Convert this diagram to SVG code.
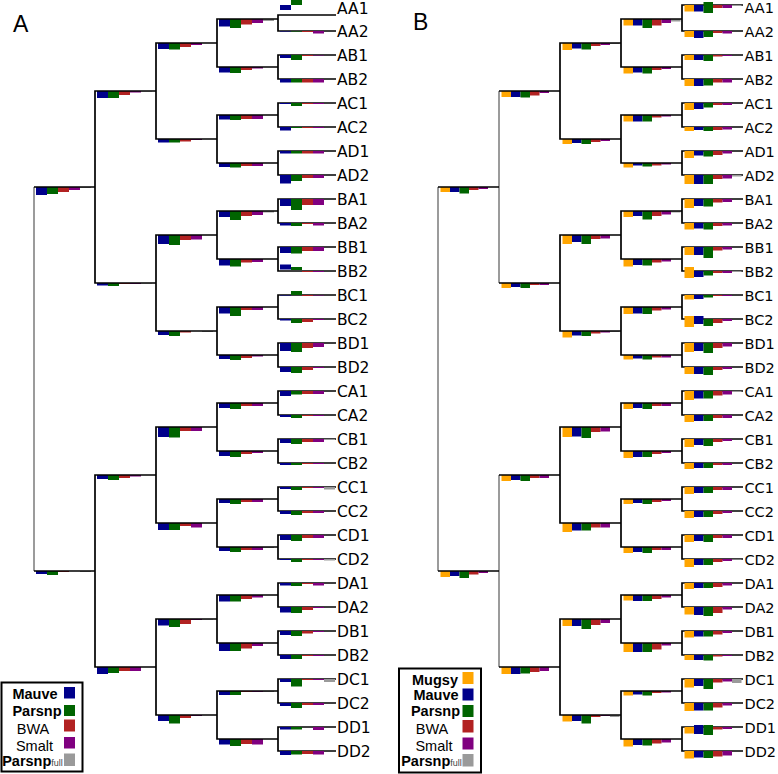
<svg xmlns="http://www.w3.org/2000/svg" width="778" height="774" viewBox="0 0 778 774">
<style>
.ln{fill:none;stroke:#000;stroke-width:1.7}
.lg{fill:none;stroke:#8a8a8a;stroke-width:1.7}
.m{fill:#00008b}.p{fill:#006400}.w{fill:#b22222}.s{fill:#800080}.f{fill:#9a9a9a}.g{fill:#ffa500}
.t{font-family:"DejaVu Sans",sans-serif;font-size:15.5px;fill:#000}
.u{font-family:"DejaVu Sans",sans-serif;font-size:14.5px;fill:#000}
.h{font-family:"Liberation Sans",Arial,sans-serif;font-size:23px;fill:#000}
.lb{font-family:"Liberation Sans",Arial,sans-serif;font-size:14.5px;fill:#000;text-anchor:middle}
.b{font-weight:bold}
.box{fill:#fff;stroke:#000;stroke-width:2}
</style>
<rect width="778" height="774" fill="#fff"/>
<text class="h" x="13" y="31.5">A</text>
<text class="h" x="413" y="30">B</text>

<!-- ===== Panel A bars ===== -->
<g id="A-bars">
<g id="A-n-AB-CD" transform="translate(36,187)"><rect class="m" width="11" height="8"/><rect class="p" x="11" width="11" height="7"/><rect class="w" x="22" width="11" height="5"/><rect class="s" x="33" width="11" height="3"/><rect class="f" x="44" width="11" height="1"/></g>
<g id="A-n-C-D" transform="translate(36,571)"><rect class="m" width="11" height="3"/><rect class="p" x="11" width="11" height="4"/><rect class="w" x="22" width="11" height="1"/><rect class="f" x="44" width="11" height="1"/></g>
<g id="A-n-A" transform="translate(97,91)"><rect class="m" width="11" height="7"/><rect class="p" x="11" width="11" height="7"/><rect class="w" x="22" width="11" height="4"/><rect class="s" x="33" width="11" height="1.5"/><rect class="f" x="44" width="11" height="0.5"/></g>
<g id="A-n-B" transform="translate(97,283)"><rect class="m" width="11" height="2.5"/><rect class="p" x="11" width="11" height="3"/><rect class="w" x="22" width="11" height="1"/><rect class="s" x="33" width="11" height="1"/><rect class="f" x="44" width="11" height="0.5"/></g>
<g id="A-n-C" transform="translate(97,475)"><rect class="m" width="11" height="4"/><rect class="p" x="11" width="11" height="5"/><rect class="w" x="22" width="11" height="3"/><rect class="s" x="33" width="11" height="1.5"/></g>
<g id="A-n-D" transform="translate(97,667)"><rect class="m" width="11" height="7"/><rect class="p" x="11" width="11" height="6"/><rect class="w" x="22" width="11" height="4"/><rect class="s" x="33" width="11" height="4"/></g>
<g id="A-n-AAAB" transform="translate(158,43)"><rect class="m" width="11" height="6"/><rect class="p" x="11" width="11" height="6.5"/><rect class="w" x="22" width="11" height="4"/><rect class="s" x="33" width="11" height="2"/></g>
<g id="A-n-ACAD" transform="translate(158,139)"><rect class="m" width="11" height="3.5"/><rect class="p" x="11" width="11" height="3.5"/><rect class="w" x="22" width="11" height="2.5"/><rect class="s" x="33" width="11" height="1"/></g>
<g id="A-n-BABB" transform="translate(158,235)"><rect class="m" width="11" height="9"/><rect class="p" x="11" width="11" height="10"/><rect class="w" x="22" width="11" height="5"/><rect class="s" x="33" width="11" height="4.5"/></g>
<g id="A-n-BCBD" transform="translate(158,331)"><rect class="m" width="11" height="4"/><rect class="p" x="11" width="11" height="5"/><rect class="w" x="22" width="11" height="1.5"/><rect class="f" x="44" width="11" height="1"/></g>
<g id="A-n-CACB" transform="translate(158,427)"><rect class="m" width="11" height="10"/><rect class="p" x="11" width="11" height="10.5"/><rect class="w" x="22" width="11" height="4"/><rect class="s" x="33" width="11" height="4"/></g>
<g id="A-n-CCCD" transform="translate(158,523)"><rect class="m" width="11" height="7"/><rect class="p" x="11" width="11" height="7"/><rect class="w" x="22" width="11" height="3"/><rect class="s" x="33" width="11" height="4.5"/></g>
<g id="A-n-DADB" transform="translate(158,619)"><rect class="m" width="11" height="6.5"/><rect class="p" x="11" width="11" height="8"/><rect class="w" x="22" width="11" height="5"/><rect class="s" x="33" width="11" height="1"/><rect class="f" x="44" width="11" height="0.5"/></g>
<g id="A-n-DCDD" transform="translate(158,715)"><rect class="m" width="11" height="6"/><rect class="p" x="11" width="11" height="8.5"/><rect class="w" x="22" width="11" height="3"/><rect class="s" x="33" width="11" height="1"/></g>
<g id="A-n-AA" transform="translate(219,19)"><rect class="m" width="11" height="7.5"/><rect class="p" x="11" width="11" height="9"/><rect class="w" x="22" width="11" height="5.5"/><rect class="s" x="33" width="11" height="4"/><rect class="f" x="44" width="11" height="2"/></g>
<g id="A-n-AB" transform="translate(219,67)"><rect class="m" width="11" height="5.5"/><rect class="p" x="11" width="11" height="6"/><rect class="w" x="22" width="11" height="3"/><rect class="s" x="33" width="11" height="1.5"/></g>
<g id="A-n-AC" transform="translate(219,115)"><rect class="m" width="11" height="4.5"/><rect class="p" x="11" width="11" height="5"/><rect class="w" x="22" width="11" height="4"/><rect class="s" x="33" width="11" height="4"/></g>
<g id="A-n-AD" transform="translate(219,163)"><rect class="m" width="11" height="4"/><rect class="p" x="11" width="11" height="4.5"/><rect class="w" x="22" width="11" height="3"/><rect class="s" x="33" width="11" height="3"/></g>
<g id="A-n-BA" transform="translate(219,211)"><rect class="m" width="11" height="6"/><rect class="p" x="11" width="11" height="9"/><rect class="w" x="22" width="11" height="5"/><rect class="s" x="33" width="11" height="4"/><rect class="f" x="44" width="11" height="1.5"/></g>
<g id="A-n-BB" transform="translate(219,259)"><rect class="m" width="11" height="6.5"/><rect class="p" x="11" width="11" height="7.5"/><rect class="w" x="22" width="11" height="3.5"/><rect class="s" x="33" width="11" height="3"/></g>
<g id="A-n-BC" transform="translate(219,307)"><rect class="m" width="11" height="6.5"/><rect class="p" x="11" width="11" height="9"/><rect class="w" x="22" width="11" height="3"/><rect class="s" x="33" width="11" height="3"/></g>
<g id="A-n-BD" transform="translate(219,355)"><rect class="m" width="11" height="4"/><rect class="p" x="11" width="11" height="5"/><rect class="w" x="22" width="11" height="3"/><rect class="s" x="33" width="11" height="1.5"/></g>
<g id="A-n-CA" transform="translate(219,403)"><rect class="m" width="11" height="5"/><rect class="p" x="11" width="11" height="6"/><rect class="w" x="22" width="11" height="3"/><rect class="s" x="33" width="11" height="3"/></g>
<g id="A-n-CB" transform="translate(219,451)"><rect class="m" width="11" height="5"/><rect class="p" x="11" width="11" height="6"/><rect class="w" x="22" width="11" height="3"/><rect class="s" x="33" width="11" height="2"/></g>
<g id="A-n-CC" transform="translate(219,499)"><rect class="m" width="11" height="4"/><rect class="p" x="11" width="11" height="5"/><rect class="w" x="22" width="11" height="3"/><rect class="s" x="33" width="11" height="3"/></g>
<g id="A-n-CD" transform="translate(219,547)"><rect class="m" width="11" height="4"/><rect class="p" x="11" width="11" height="5"/><rect class="w" x="22" width="11" height="3"/><rect class="s" x="33" width="11" height="3"/><rect class="f" x="44" width="11" height="1"/></g>
<g id="A-n-DA" transform="translate(219,595)"><rect class="m" width="11" height="6.5"/><rect class="p" x="11" width="11" height="6.5"/><rect class="w" x="22" width="11" height="4"/><rect class="s" x="33" width="11" height="2.5"/></g>
<g id="A-n-DB" transform="translate(219,643)"><rect class="m" width="11" height="8"/><rect class="p" x="11" width="11" height="8"/><rect class="w" x="22" width="11" height="5.5"/><rect class="s" x="33" width="11" height="3"/></g>
<g id="A-n-DC" transform="translate(219,691)"><rect class="m" width="11" height="4"/><rect class="p" x="11" width="11" height="4"/><rect class="w" x="22" width="11" height="1"/><rect class="s" x="33" width="11" height="1"/><rect class="f" x="44" width="11" height="1"/></g>
<g id="A-n-DD" transform="translate(219,739)"><rect class="m" width="11" height="5.5"/><rect class="p" x="11" width="11" height="7"/><rect class="w" x="22" width="11" height="5"/><rect class="s" x="33" width="11" height="5.5"/></g>
</g>

<!-- ===== Panel B bars ===== -->
<g id="B-bars">
<g id="B-n-AB-CD" transform="translate(440.5,187)"><rect class="g" width="9.5" height="5"/><rect class="m" x="9.5" width="9.5" height="5"/><rect class="p" x="19" width="9.5" height="6.5"/><rect class="w" x="28.5" width="9.5" height="3"/><rect class="s" x="38" width="9.5" height="2"/></g>
<g id="B-n-C-D" transform="translate(440.5,571)"><rect class="g" width="9.5" height="6"/><rect class="m" x="9.5" width="9.5" height="5"/><rect class="p" x="19" width="9.5" height="7"/><rect class="w" x="28.5" width="9.5" height="3.5"/><rect class="s" x="38" width="9.5" height="2"/></g>
<g id="B-n-A" transform="translate(501.5,91)"><rect class="g" width="9.5" height="6"/><rect class="m" x="9.5" width="9.5" height="6"/><rect class="p" x="19" width="9.5" height="6.5"/><rect class="w" x="28.5" width="9.5" height="4.5"/><rect class="s" x="38" width="9.5" height="2"/></g>
<g id="B-n-B" transform="translate(501.5,283)"><rect class="g" width="9.5" height="5"/><rect class="m" x="9.5" width="9.5" height="4"/><rect class="p" x="19" width="9.5" height="5"/><rect class="w" x="28.5" width="9.5" height="2"/><rect class="s" x="38" width="9.5" height="2"/></g>
<g id="B-n-C" transform="translate(501.5,475)"><rect class="g" width="9.5" height="6"/><rect class="m" x="9.5" width="9.5" height="5"/><rect class="p" x="19" width="9.5" height="6"/><rect class="w" x="28.5" width="9.5" height="3"/><rect class="s" x="38" width="9.5" height="3"/></g>
<g id="B-n-D" transform="translate(501.5,667)"><rect class="g" width="9.5" height="7"/><rect class="m" x="9.5" width="9.5" height="7"/><rect class="p" x="19" width="9.5" height="6.5"/><rect class="w" x="28.5" width="9.5" height="5"/><rect class="s" x="38" width="9.5" height="4"/></g>
<g id="B-n-AAAB" transform="translate(562.5,43)"><rect class="g" width="9.5" height="7"/><rect class="m" x="9.5" width="9.5" height="5.5"/><rect class="p" x="19" width="9.5" height="6.5"/><rect class="w" x="28.5" width="9.5" height="3"/><rect class="s" x="38" width="9.5" height="2"/><rect class="f" x="47.5" width="9.5" height="1"/></g>
<g id="B-n-ACAD" transform="translate(562.5,139)"><rect class="g" width="9.5" height="5"/><rect class="m" x="9.5" width="9.5" height="4"/><rect class="p" x="19" width="9.5" height="5"/><rect class="w" x="28.5" width="9.5" height="3"/><rect class="s" x="38" width="9.5" height="2"/></g>
<g id="B-n-BABB" transform="translate(562.5,235)"><rect class="g" width="9.5" height="9"/><rect class="m" x="9.5" width="9.5" height="7"/><rect class="p" x="19" width="9.5" height="9"/><rect class="w" x="28.5" width="9.5" height="4"/><rect class="s" x="38" width="9.5" height="3.5"/></g>
<g id="B-n-BCBD" transform="translate(562.5,331)"><rect class="g" width="9.5" height="6.5"/><rect class="m" x="9.5" width="9.5" height="4.5"/><rect class="p" x="19" width="9.5" height="5"/><rect class="w" x="28.5" width="9.5" height="2.5"/><rect class="s" x="38" width="9.5" height="1.5"/><rect class="f" x="47.5" width="9.5" height="1"/></g>
<g id="B-n-CACB" transform="translate(562.5,427)"><rect class="g" width="9.5" height="10"/><rect class="m" x="9.5" width="9.5" height="9.5"/><rect class="p" x="19" width="9.5" height="11"/><rect class="w" x="28.5" width="9.5" height="5"/><rect class="s" x="38" width="9.5" height="4.5"/></g>
<g id="B-n-CCCD" transform="translate(562.5,523)"><rect class="g" width="9.5" height="9"/><rect class="m" x="9.5" width="9.5" height="7.5"/><rect class="p" x="19" width="9.5" height="7.5"/><rect class="w" x="28.5" width="9.5" height="4.5"/><rect class="s" x="38" width="9.5" height="4.5"/></g>
<g id="B-n-DADB" transform="translate(562.5,619)"><rect class="g" width="9.5" height="7"/><rect class="m" x="9.5" width="9.5" height="7"/><rect class="p" x="19" width="9.5" height="10"/><rect class="w" x="28.5" width="9.5" height="6"/><rect class="s" x="38" width="9.5" height="4"/></g>
<g id="B-n-DCDD" transform="translate(562.5,715)"><rect class="g" width="9.5" height="6.5"/><rect class="m" x="9.5" width="9.5" height="6"/><rect class="p" x="19" width="9.5" height="8.5"/><rect class="w" x="28.5" width="9.5" height="2"/><rect class="s" x="38" width="9.5" height="1"/><rect class="f" x="47.5" width="9.5" height="2"/></g>
<g id="B-n-AA" transform="translate(623.5,19)"><rect class="g" width="9.5" height="6.5"/><rect class="m" x="9.5" width="9.5" height="6.5"/><rect class="p" x="19" width="9.5" height="9"/><rect class="w" x="28.5" width="9.5" height="6.5"/><rect class="s" x="38" width="9.5" height="4"/><rect class="f" x="47.5" width="9.5" height="2.5"/></g>
<g id="B-n-AB" transform="translate(623.5,67)"><rect class="g" width="9.5" height="6.5"/><rect class="m" x="9.5" width="9.5" height="5.5"/><rect class="p" x="19" width="9.5" height="6.5"/><rect class="w" x="28.5" width="9.5" height="3"/><rect class="s" x="38" width="9.5" height="2"/></g>
<g id="B-n-AC" transform="translate(623.5,115)"><rect class="g" width="9.5" height="6.5"/><rect class="m" x="9.5" width="9.5" height="6.5"/><rect class="p" x="19" width="9.5" height="6.5"/><rect class="w" x="28.5" width="9.5" height="2.5"/><rect class="s" x="38" width="9.5" height="1.5"/></g>
<g id="B-n-AD" transform="translate(623.5,163)"><rect class="g" width="9.5" height="4.5"/><rect class="m" x="9.5" width="9.5" height="2.5"/><rect class="p" x="19" width="9.5" height="3.5"/><rect class="w" x="28.5" width="9.5" height="2.5"/><rect class="s" x="38" width="9.5" height="1.5"/></g>
<g id="B-n-BA" transform="translate(623.5,211)"><rect class="g" width="9.5" height="6"/><rect class="m" x="9.5" width="9.5" height="5"/><rect class="p" x="19" width="9.5" height="8.5"/><rect class="w" x="28.5" width="9.5" height="5"/><rect class="s" x="38" width="9.5" height="3.5"/><rect class="f" x="47.5" width="9.5" height="1.5"/></g>
<g id="B-n-BB" transform="translate(623.5,259)"><rect class="g" width="9.5" height="7.5"/><rect class="m" x="9.5" width="9.5" height="6"/><rect class="p" x="19" width="9.5" height="6.5"/><rect class="w" x="28.5" width="9.5" height="3.5"/><rect class="s" x="38" width="9.5" height="2.5"/></g>
<g id="B-n-BC" transform="translate(623.5,307)"><rect class="g" width="9.5" height="7"/><rect class="m" x="9.5" width="9.5" height="6.5"/><rect class="p" x="19" width="9.5" height="7"/><rect class="w" x="28.5" width="9.5" height="3.5"/><rect class="s" x="38" width="9.5" height="2.5"/></g>
<g id="B-n-BD" transform="translate(623.5,355)"><rect class="g" width="9.5" height="4.5"/><rect class="m" x="9.5" width="9.5" height="3.5"/><rect class="p" x="19" width="9.5" height="4.5"/><rect class="w" x="28.5" width="9.5" height="2.5"/><rect class="s" x="38" width="9.5" height="2.5"/></g>
<g id="B-n-CA" transform="translate(623.5,403)"><rect class="g" width="9.5" height="6"/><rect class="m" x="9.5" width="9.5" height="5"/><rect class="p" x="19" width="9.5" height="6"/><rect class="w" x="28.5" width="9.5" height="3"/><rect class="s" x="38" width="9.5" height="3"/></g>
<g id="B-n-CB" transform="translate(623.5,451)"><rect class="g" width="9.5" height="7"/><rect class="m" x="9.5" width="9.5" height="6"/><rect class="p" x="19" width="9.5" height="6"/><rect class="w" x="28.5" width="9.5" height="3"/><rect class="s" x="38" width="9.5" height="2"/></g>
<g id="B-n-CC" transform="translate(623.5,499)"><rect class="g" width="9.5" height="5"/><rect class="m" x="9.5" width="9.5" height="4"/><rect class="p" x="19" width="9.5" height="5"/><rect class="w" x="28.5" width="9.5" height="3"/><rect class="s" x="38" width="9.5" height="2"/></g>
<g id="B-n-CD" transform="translate(623.5,547)"><rect class="g" width="9.5" height="6"/><rect class="m" x="9.5" width="9.5" height="5"/><rect class="p" x="19" width="9.5" height="6"/><rect class="w" x="28.5" width="9.5" height="3"/><rect class="s" x="38" width="9.5" height="3"/></g>
<g id="B-n-DA" transform="translate(623.5,595)"><rect class="g" width="9.5" height="5.5"/><rect class="m" x="9.5" width="9.5" height="6"/><rect class="p" x="19" width="9.5" height="6"/><rect class="w" x="28.5" width="9.5" height="4"/><rect class="s" x="38" width="9.5" height="2.5"/></g>
<g id="B-n-DB" transform="translate(623.5,643)"><rect class="g" width="9.5" height="9"/><rect class="m" x="9.5" width="9.5" height="9"/><rect class="p" x="19" width="9.5" height="9"/><rect class="w" x="28.5" width="9.5" height="6.5"/><rect class="s" x="38" width="9.5" height="2.5"/></g>
<g id="B-n-DC" transform="translate(623.5,691)"><rect class="g" width="9.5" height="4.5"/><rect class="m" x="9.5" width="9.5" height="3.5"/><rect class="p" x="19" width="9.5" height="4.5"/><rect class="w" x="28.5" width="9.5" height="2"/><rect class="s" x="38" width="9.5" height="1.5"/></g>
<g id="B-n-DD" transform="translate(623.5,739)"><rect class="g" width="9.5" height="7.5"/><rect class="m" x="9.5" width="9.5" height="6"/><rect class="p" x="19" width="9.5" height="6.5"/><rect class="w" x="28.5" width="9.5" height="4.5"/><rect class="s" x="38" width="9.5" height="3.5"/></g>
</g>

<!-- ===== Connectors ===== -->
<g id="connectors">
<path class="lg" d="M34 187V571 M438 187V571 M499 91V283 M499 475V667"/>
<path class="ln" d="M34 187H95 M34 571H95
M156 91H95V283H156 M156 475H95V667H156
M217 43H156V139H217 M217 235H156V331H217 M217 427H156V523H217 M217 619H156V715H217
M278 19H217V67H278 M278 115H217V163H278 M278 211H217V259H278 M278 307H217V355H278 M278 403H217V451H278 M278 499H217V547H278 M278 595H217V643H278 M278 691H217V739H278
M336 15H278V31H336 M336 55H278V79H336 M336 103H278V127H336 M336 151H278V175H336 M336 199H278V223H336 M336 247H278V271H336 M336 295H278V319H336 M336 343H278V367H336 M336 391H278V415H336 M336 439H278V463H336 M336 487H278V511H336 M336 535H278V559H336 M336 583H278V607H336 M336 631H278V655H336 M336 679H278V703H336 M336 727H278V751H336"/>
<path class="ln" d="M438 187H499 M438 571H499 M499 91H560 M499 283H560 M499 475H560 M499 667H560
M621 43H560V139H621 M621 235H560V331H621 M621 427H560V523H621 M621 619H560V715H621
M682 19H621V67H682 M682 115H621V163H682 M682 211H621V259H682 M682 307H621V355H682 M682 403H621V451H682 M682 499H621V547H682 M682 595H621V643H682 M682 691H621V739H682
M743 5H682V31H743 M743 55H682V79H743 M743 103H682V127H743 M743 151H682V175H743 M743 199H682V223H743 M743 247H682V271H743 M743 295H682V319H743 M743 343H682V367H743 M743 391H682V415H743 M743 439H682V463H743 M743 487H682V511H743 M743 535H682V559H743 M743 583H682V607H743 M743 631H682V655H743 M743 679H682V703H743 M743 727H682V751H743"/>
</g>

<!-- ===== Panel A leaves ===== -->
<g id="A-AA1"><rect class="m" x="280" y="5" width="11" height="5"/><rect class="p" x="291" y="0" width="11" height="5"/><text class="t" x="337" y="13.5">AA1</text></g>
<g id="A-AA2"><g transform="translate(280,31)"><rect class="m" width="11" height="0.5"/><rect class="p" x="11" width="11" height="0.5"/><rect class="w" x="22" width="11" height="1"/><rect class="s" x="33" width="11" height="2.5"/></g><text class="t" x="337" y="37">AA2</text></g>
<g id="A-AB1"><g transform="translate(280,55)"><rect class="m" width="11" height="3"/><rect class="p" x="11" width="11" height="5"/><rect class="w" x="22" width="11" height="1"/><rect class="s" x="33" width="11" height="0.5"/></g><text class="t" x="337" y="61">AB1</text></g>
<g id="A-AB2"><g transform="translate(280,79)"><rect class="m" width="11" height="3.5"/><rect class="p" x="11" width="11" height="3.5"/><rect class="w" x="22" width="11" height="3.5"/><rect class="s" x="33" width="11" height="3.5"/></g><text class="t" x="337" y="85">AB2</text></g>
<g id="A-AC1"><g transform="translate(280,103)"><rect class="m" width="11" height="1"/><rect class="p" x="11" width="11" height="3"/><rect class="w" x="22" width="11" height="1"/><rect class="s" x="33" width="11" height="1"/></g><text class="t" x="337" y="109">AC1</text></g>
<g id="A-AC2"><g transform="translate(280,127)"><rect class="m" width="11" height="3.5"/><rect class="p" x="11" width="11" height="1"/><rect class="w" x="22" width="11" height="1"/><rect class="s" x="33" width="11" height="1"/></g><text class="t" x="337" y="133">AC2</text></g>
<g id="A-AD1"><g transform="translate(280,151)"><rect class="m" width="11" height="2.5"/><rect class="p" x="11" width="11" height="2.5"/><rect class="w" x="22" width="11" height="2.5"/><rect class="s" x="33" width="11" height="2.5"/></g><text class="t" x="337" y="157">AD1</text></g>
<g id="A-AD2"><g transform="translate(280,175)"><rect class="m" width="11" height="8.5"/><rect class="p" x="11" width="11" height="6"/><rect class="w" x="22" width="11" height="3"/><rect class="s" x="33" width="11" height="3"/></g><text class="t" x="337" y="181">AD2</text></g>
<g id="A-BA1"><g transform="translate(280,199)"><rect class="m" width="11" height="7"/><rect class="p" x="11" width="11" height="11"/><rect class="w" x="22" width="11" height="6"/><rect class="s" x="33" width="11" height="6"/></g><text class="t" x="337" y="205">BA1</text></g>
<g id="A-BA2"><g transform="translate(280,223)"><rect class="m" width="11" height="2.5"/><rect class="p" x="11" width="11" height="3"/><rect class="w" x="22" width="11" height="1"/><rect class="s" x="33" width="11" height="2.5"/></g><text class="t" x="337" y="229">BA2</text></g>
<g id="A-BB1"><g transform="translate(280,247)"><rect class="m" width="11" height="6"/><rect class="p" x="11" width="11" height="6.5"/><rect class="w" x="22" width="11" height="4"/><rect class="s" x="33" width="11" height="4"/></g><text class="t" x="337" y="253">BB1</text></g>
<g id="A-BB2"><g transform="translate(280,271)"><rect class="m" y="-6.5" width="11" height="5"/><rect class="p" x="11" y="-4" width="11" height="3"/><rect class="w" x="22" width="11" height="1"/><rect class="s" x="33" width="11" height="1"/></g><text class="t" x="337" y="277">BB2</text></g>
<g id="A-BC1"><g transform="translate(280,295)"><rect class="m" width="11" height="0.5"/><rect class="p" x="11" y="-4" width="11" height="4"/><rect class="w" x="22" width="11" height="1"/><rect class="s" x="33" width="11" height="0.5"/></g><text class="t" x="337" y="301">BC1</text></g>
<g id="A-BC2"><g transform="translate(280,319)"><rect class="m" width="11" height="1.5"/><rect class="p" x="11" width="11" height="4"/><rect class="w" x="22" width="11" height="3"/><rect class="s" x="33" width="11" height="1"/></g><text class="t" x="337" y="325">BC2</text></g>
<g id="A-BD1"><g transform="translate(280,343)"><rect class="m" width="11" height="8"/><rect class="p" x="11" width="11" height="9"/><rect class="w" x="22" width="11" height="5"/><rect class="s" x="33" width="11" height="4"/></g><text class="t" x="337" y="349">BD1</text></g>
<g id="A-BD2"><g transform="translate(280,367)"><rect class="m" width="11" height="5"/><rect class="p" x="11" width="11" height="6"/><rect class="w" x="22" width="11" height="3"/><rect class="s" x="33" width="11" height="1"/></g><text class="t" x="337" y="373">BD2</text></g>
<g id="A-CA1"><g transform="translate(280,391)"><rect class="m" width="11" height="5"/><rect class="p" x="11" width="11" height="3.5"/><rect class="w" x="22" width="11" height="3"/><rect class="s" x="33" width="11" height="3"/></g><text class="t" x="337" y="397">CA1</text></g>
<g id="A-CA2"><g transform="translate(280,415)"><rect class="m" width="11" height="2"/><rect class="p" x="11" width="11" height="3"/><rect class="w" x="22" width="11" height="1"/><rect class="s" x="33" width="11" height="1"/></g><text class="t" x="337" y="421">CA2</text></g>
<g id="A-CB1"><g transform="translate(280,439)"><rect class="m" width="11" height="4"/><rect class="p" x="11" width="11" height="5"/><rect class="w" x="22" width="11" height="3"/><rect class="s" x="33" width="11" height="3"/><rect class="f" x="44" width="11" height="1"/></g><text class="t" x="337" y="445">CB1</text></g>
<g id="A-CB2"><g transform="translate(280,463)"><rect class="m" width="11" height="2"/><rect class="p" x="11" width="11" height="2"/><rect class="w" x="22" width="11" height="1"/><rect class="s" x="33" width="11" height="1"/></g><text class="t" x="337" y="469">CB2</text></g>
<g id="A-CC1"><g transform="translate(280,487)"><rect class="m" width="11" height="2"/><rect class="p" x="11" width="11" height="3"/><rect class="w" x="22" width="11" height="1"/><rect class="s" x="33" width="11" height="1"/><rect class="f" x="44" width="11" height="2.5"/></g><text class="t" x="337" y="493">CC1</text></g>
<g id="A-CC2"><g transform="translate(280,511)"><rect class="m" width="11" height="3"/><rect class="p" x="11" width="11" height="4"/><rect class="w" x="22" width="11" height="2"/><rect class="s" x="33" width="11" height="2"/></g><text class="t" x="337" y="517">CC2</text></g>
<g id="A-CD1"><g transform="translate(280,535)"><rect class="m" width="11" height="5"/><rect class="p" x="11" width="11" height="6"/><rect class="w" x="22" width="11" height="3"/><rect class="s" x="33" width="11" height="3"/></g><text class="t" x="337" y="541">CD1</text></g>
<g id="A-CD2"><g transform="translate(280,559)"><rect class="m" width="11" height="1"/><rect class="p" x="11" width="11" height="3"/><rect class="w" x="22" width="11" height="1"/><rect class="s" x="33" width="11" height="1"/><rect class="f" x="44" width="11" height="1.5"/></g><text class="t" x="337" y="565">CD2</text></g>
<g id="A-DA1"><g transform="translate(280,583)"><rect class="m" width="11" height="2.5"/><rect class="p" x="11" width="11" height="3"/><rect class="w" x="22" width="11" height="1"/><rect class="s" x="33" width="11" height="2.5"/></g><text class="t" x="337" y="589">DA1</text></g>
<g id="A-DA2"><g transform="translate(280,607)"><rect class="m" width="11" height="5.5"/><rect class="p" x="11" width="11" height="6"/><rect class="w" x="22" width="11" height="3"/><rect class="s" x="33" width="11" height="1"/></g><text class="t" x="337" y="613">DA2</text></g>
<g id="A-DB1"><g transform="translate(280,631)"><rect class="m" width="11" height="4"/><rect class="p" x="11" width="11" height="5"/><rect class="w" x="22" width="11" height="2.5"/><rect class="s" x="33" width="11" height="1"/></g><text class="t" x="337" y="637">DB1</text></g>
<g id="A-DB2"><g transform="translate(280,655)"><rect class="m" width="11" height="4"/><rect class="p" x="11" width="11" height="4"/><rect class="w" x="22" width="11" height="1"/><rect class="s" x="33" width="11" height="1"/></g><text class="t" x="337" y="661">DB2</text></g>
<g id="A-DC1"><g transform="translate(280,679)"><rect class="m" width="11" height="3"/><rect class="p" x="11" width="11" height="7.5"/><rect class="w" x="22" width="11" height="1"/><rect class="s" x="33" width="11" height="1"/><rect class="f" x="44" width="11" height="3"/></g><text class="t" x="337" y="685">DC1</text></g>
<g id="A-DC2"><g transform="translate(280,703)"><rect class="m" width="11" height="3"/><rect class="p" x="11" width="11" height="5"/><rect class="w" x="22" width="11" height="2"/><rect class="s" x="33" width="11" height="2"/></g><text class="t" x="337" y="709">DC2</text></g>
<g id="A-DD1"><g transform="translate(280,727)"><rect class="m" width="11" height="2.5"/><rect class="p" x="11" width="11" height="2.5"/><rect class="s" x="33" width="11" height="3"/></g><text class="t" x="337" y="733">DD1</text></g>
<g id="A-DD2"><g transform="translate(280,751)"><rect class="m" width="11" height="4"/><rect class="p" x="11" width="11" height="3.5"/><rect class="w" x="22" width="11" height="3"/><rect class="s" x="33" width="11" height="3.5"/></g><text class="t" x="337" y="757">DD2</text></g>

<!-- ===== Panel B leaves ===== -->
<g id="B-AA1"><g transform="translate(684.5,5)"><rect class="g" width="9.5" height="6.5"/><rect class="m" x="9.5" width="9.5" height="6.5"/><rect class="p" x="19" y="-3" width="9.5" height="11"/><rect class="w" x="28.5" width="9.5" height="3"/><rect class="s" x="38" width="9.5" height="3"/><rect class="f" x="47.5" width="9.5" height="1"/></g><text class="u" x="744.5" y="12.5">AA1</text></g>
<g id="B-AA2"><g transform="translate(684.5,31)"><rect class="g" width="9.5" height="6"/><rect class="m" x="9.5" width="9.5" height="7"/><rect class="p" x="19" width="9.5" height="6"/><rect class="w" x="28.5" width="9.5" height="2"/><rect class="s" x="38" width="9.5" height="2.5"/></g><text class="u" x="744.5" y="36.5">AA2</text></g>
<g id="B-AB1"><g transform="translate(684.5,55)"><rect class="g" width="9.5" height="5"/><rect class="m" x="9.5" width="9.5" height="5"/><rect class="p" x="19" width="9.5" height="6"/><rect class="w" x="28.5" width="9.5" height="1.5"/><rect class="s" x="38" width="9.5" height="1"/></g><text class="u" x="744.5" y="60.5">AB1</text></g>
<g id="B-AB2"><g transform="translate(684.5,79)"><rect class="g" width="9.5" height="7"/><rect class="m" x="9.5" width="9.5" height="7"/><rect class="p" x="19" width="9.5" height="6.5"/><rect class="w" x="28.5" width="9.5" height="3.5"/><rect class="s" x="38" width="9.5" height="3.5"/></g><text class="u" x="744.5" y="84.5">AB2</text></g>
<g id="B-AC1"><g transform="translate(684.5,103)"><rect class="g" width="9.5" height="7"/><rect class="m" x="9.5" width="9.5" height="6"/><rect class="p" x="19" width="9.5" height="4.5"/><rect class="w" x="28.5" width="9.5" height="2"/><rect class="s" x="38" width="9.5" height="2"/></g><text class="u" x="744.5" y="108.5">AC1</text></g>
<g id="B-AC2"><g transform="translate(684.5,127)"><rect class="g" width="9.5" height="4"/><rect class="m" x="9.5" width="9.5" height="3"/><rect class="p" x="19" width="9.5" height="4"/><rect class="w" x="28.5" width="9.5" height="3"/><rect class="s" x="38" width="9.5" height="2.5"/></g><text class="u" x="744.5" y="132.5">AC2</text></g>
<g id="B-AD1"><g transform="translate(684.5,151)"><rect class="g" width="9.5" height="7"/><rect class="m" x="9.5" width="9.5" height="4.5"/><rect class="p" x="19" width="9.5" height="5.5"/><rect class="w" x="28.5" width="9.5" height="4"/><rect class="s" x="38" width="9.5" height="2.5"/></g><text class="u" x="744.5" y="156.5">AD1</text></g>
<g id="B-AD2"><g transform="translate(684.5,175)"><rect class="g" width="9.5" height="9"/><rect class="m" x="9.5" width="9.5" height="9"/><rect class="p" x="19" width="9.5" height="9"/><rect class="w" x="28.5" width="9.5" height="4"/><rect class="s" x="38" width="9.5" height="3.5"/><rect class="f" x="47.5" width="9.5" height="1.5"/></g><text class="u" x="744.5" y="180.5">AD2</text></g>
<g id="B-BA1"><g transform="translate(684.5,199)"><rect class="g" width="9.5" height="9"/><rect class="m" x="9.5" width="9.5" height="7"/><rect class="p" x="19" width="9.5" height="7.5"/><rect class="w" x="28.5" width="9.5" height="3.5"/><rect class="s" x="38" width="9.5" height="3"/></g><text class="u" x="744.5" y="204.5">BA1</text></g>
<g id="B-BA2"><g transform="translate(684.5,223)"><rect class="g" width="9.5" height="6.5"/><rect class="m" x="9.5" width="9.5" height="5.5"/><rect class="p" x="19" width="9.5" height="6.5"/><rect class="w" x="28.5" width="9.5" height="3"/><rect class="s" x="38" width="9.5" height="2.5"/></g><text class="u" x="744.5" y="228.5">BA2</text></g>
<g id="B-BB1"><g transform="translate(684.5,247)"><rect class="g" width="9.5" height="8"/><rect class="m" x="9.5" width="9.5" height="8"/><rect class="p" x="19" width="9.5" height="11"/><rect class="w" x="28.5" width="9.5" height="3.5"/><rect class="s" x="38" width="9.5" height="2.5"/></g><text class="u" x="744.5" y="252.5">BB1</text></g>
<g id="B-BB2"><g transform="translate(684.5,271)"><rect class="g" y="-4" width="9.5" height="11"/><rect class="m" x="9.5" width="9.5" height="6"/><rect class="p" x="19" width="9.5" height="4.5"/><rect class="w" x="28.5" width="9.5" height="2"/><rect class="s" x="38" width="9.5" height="2"/><rect class="f" x="47.5" width="9.5" height="1"/></g><text class="u" x="744.5" y="276.5">BB2</text></g>
<g id="B-BC1"><g transform="translate(684.5,295)"><rect class="g" width="9.5" height="4.5"/><rect class="m" x="9.5" width="9.5" height="4"/><rect class="p" x="19" width="9.5" height="2.5"/><rect class="w" x="28.5" width="9.5" height="1"/><rect class="s" x="38" width="9.5" height="1"/></g><text class="u" x="744.5" y="300.5">BC1</text></g>
<g id="B-BC2"><g transform="translate(684.5,319)"><rect class="g" y="-3" width="9.5" height="11"/><rect class="m" x="9.5" y="-3" width="9.5" height="8"/><rect class="p" x="19" width="9.5" height="7"/><rect class="w" x="28.5" width="9.5" height="4"/><rect class="s" x="38" width="9.5" height="2"/></g><text class="u" x="744.5" y="324.5">BC2</text></g>
<g id="B-BD1"><g transform="translate(684.5,343)"><rect class="g" width="9.5" height="9"/><rect class="m" x="9.5" width="9.5" height="8"/><rect class="p" x="19" width="9.5" height="10"/><rect class="w" x="28.5" width="9.5" height="5"/><rect class="s" x="38" width="9.5" height="3.5"/></g><text class="u" x="744.5" y="348.5">BD1</text></g>
<g id="B-BD2"><g transform="translate(684.5,367)"><rect class="g" width="9.5" height="7"/><rect class="m" x="9.5" width="9.5" height="7"/><rect class="p" x="19" width="9.5" height="8"/><rect class="w" x="28.5" width="9.5" height="3"/><rect class="s" x="38" width="9.5" height="2"/></g><text class="u" x="744.5" y="372.5">BD2</text></g>
<g id="B-CA1"><g transform="translate(684.5,391)"><rect class="g" width="9.5" height="9"/><rect class="m" x="9.5" width="9.5" height="7.5"/><rect class="p" x="19" width="9.5" height="7.5"/><rect class="w" x="28.5" width="9.5" height="4.5"/><rect class="s" x="38" width="9.5" height="3.5"/><rect class="f" x="47.5" width="9.5" height="1"/></g><text class="u" x="744.5" y="396.5">CA1</text></g>
<g id="B-CA2"><g transform="translate(684.5,415)"><rect class="g" width="9.5" height="7"/><rect class="m" x="9.5" width="9.5" height="6"/><rect class="p" x="19" width="9.5" height="6"/><rect class="w" x="28.5" width="9.5" height="3"/><rect class="s" x="38" width="9.5" height="3"/></g><text class="u" x="744.5" y="420.5">CA2</text></g>
<g id="B-CB1"><g transform="translate(684.5,439)"><rect class="g" width="9.5" height="8"/><rect class="m" x="9.5" width="9.5" height="6"/><rect class="p" x="19" width="9.5" height="7"/><rect class="w" x="28.5" width="9.5" height="3"/><rect class="s" x="38" width="9.5" height="2"/></g><text class="u" x="744.5" y="444.5">CB1</text></g>
<g id="B-CB2"><g transform="translate(684.5,463)"><rect class="g" width="9.5" height="6"/><rect class="m" x="9.5" width="9.5" height="5"/><rect class="p" x="19" width="9.5" height="5"/><rect class="w" x="28.5" width="9.5" height="2"/><rect class="s" x="38" width="9.5" height="2"/></g><text class="u" x="744.5" y="468.5">CB2</text></g>
<g id="B-CC1"><g transform="translate(684.5,487)"><rect class="g" width="9.5" height="7"/><rect class="m" x="9.5" width="9.5" height="6"/><rect class="p" x="19" width="9.5" height="6"/><rect class="w" x="28.5" width="9.5" height="3"/><rect class="s" x="38" width="9.5" height="3"/></g><text class="u" x="744.5" y="492.5">CC1</text></g>
<g id="B-CC2"><g transform="translate(684.5,511)"><rect class="g" width="9.5" height="7"/><rect class="m" x="9.5" width="9.5" height="6"/><rect class="p" x="19" width="9.5" height="6"/><rect class="w" x="28.5" width="9.5" height="3"/><rect class="s" x="38" width="9.5" height="2"/></g><text class="u" x="744.5" y="516.5">CC2</text></g>
<g id="B-CD1"><g transform="translate(684.5,535)"><rect class="g" width="9.5" height="7"/><rect class="m" x="9.5" width="9.5" height="6"/><rect class="p" x="19" width="9.5" height="7"/><rect class="w" x="28.5" width="9.5" height="3"/><rect class="s" x="38" width="9.5" height="3"/></g><text class="u" x="744.5" y="540.5">CD1</text></g>
<g id="B-CD2"><g transform="translate(684.5,559)"><rect class="g" width="9.5" height="8"/><rect class="m" x="9.5" width="9.5" height="6"/><rect class="p" x="19" width="9.5" height="6"/><rect class="w" x="28.5" width="9.5" height="3"/><rect class="s" x="38" width="9.5" height="2"/><rect class="f" x="47.5" width="9.5" height="0.7"/></g><text class="u" x="744.5" y="564.5">CD2</text></g>
<g id="B-DA1"><g transform="translate(684.5,583)"><rect class="g" width="9.5" height="6"/><rect class="m" x="9.5" width="9.5" height="5"/><rect class="p" x="19" width="9.5" height="5"/><rect class="w" x="28.5" width="9.5" height="4"/><rect class="s" x="38" width="9.5" height="2.5"/></g><text class="u" x="744.5" y="588.5">DA1</text></g>
<g id="B-DA2"><g transform="translate(684.5,607)"><rect class="g" width="9.5" height="7.5"/><rect class="m" x="9.5" width="9.5" height="8"/><rect class="p" x="19" width="9.5" height="9"/><rect class="w" x="28.5" width="9.5" height="6"/><rect class="s" x="38" width="9.5" height="2.5"/></g><text class="u" x="744.5" y="612.5">DA2</text></g>
<g id="B-DB1"><g transform="translate(684.5,631)"><rect class="g" width="9.5" height="6.5"/><rect class="m" x="9.5" width="9.5" height="5.5"/><rect class="p" x="19" width="9.5" height="5.5"/><rect class="w" x="28.5" width="9.5" height="3.5"/><rect class="s" x="38" width="9.5" height="2"/></g><text class="u" x="744.5" y="636.5">DB1</text></g>
<g id="B-DB2"><g transform="translate(684.5,655)"><rect class="g" width="9.5" height="5"/><rect class="m" x="9.5" width="9.5" height="5"/><rect class="p" x="19" width="9.5" height="5.5"/><rect class="w" x="28.5" width="9.5" height="1.5"/><rect class="s" x="38" width="9.5" height="1"/></g><text class="u" x="744.5" y="660.5">DB2</text></g>
<g id="B-DC1"><g transform="translate(684.5,679)"><rect class="g" width="9.5" height="8.5"/><rect class="m" x="9.5" width="9.5" height="7"/><rect class="p" x="19" width="9.5" height="10"/><rect class="w" x="28.5" width="9.5" height="3.5"/><rect class="s" x="38" width="9.5" height="2.5"/><rect class="f" x="47.5" width="9.5" height="4"/></g><text class="u" x="744.5" y="684.5">DC1</text></g>
<g id="B-DC2"><g transform="translate(684.5,703)"><rect class="g" width="9.5" height="8"/><rect class="m" x="9.5" width="9.5" height="7.5"/><rect class="p" x="19" width="9.5" height="7.5"/><rect class="w" x="28.5" width="9.5" height="4.5"/><rect class="s" x="38" width="9.5" height="2.5"/></g><text class="u" x="744.5" y="708.5">DC2</text></g>
<g id="B-DD1"><g transform="translate(684.5,727)"><rect class="g" width="9.5" height="6.5"/><rect class="m" x="9.5" y="-2" width="9.5" height="9"/><rect class="p" x="19" y="-2" width="9.5" height="10"/><rect class="w" x="28.5" width="9.5" height="2.5"/><rect class="s" x="38" width="9.5" height="2"/></g><text class="u" x="744.5" y="732.5">DD1</text></g>
<g id="B-DD2"><g transform="translate(684.5,751)"><rect class="g" width="9.5" height="7.5"/><rect class="m" x="9.5" width="9.5" height="6.5"/><rect class="p" x="19" width="9.5" height="7"/><rect class="w" x="28.5" width="9.5" height="5.5"/><rect class="s" x="38" width="9.5" height="4.5"/></g><text class="u" x="744.5" y="756.5">DD2</text></g>

<!-- ===== Legends ===== -->
<g id="legend-A">
<rect class="box" x="1.5" y="682.5" width="81" height="89"/>
<text class="lb b" x="35" y="698.5">Mauve</text><rect class="m" x="64" y="687" width="11" height="11.5"/>
<text class="lb b" x="37" y="716">Parsnp</text><rect class="p" x="64" y="705" width="11" height="11"/>
<text class="lb" x="33" y="733.5">BWA</text><rect class="w" x="64" y="719.5" width="11" height="12"/>
<text class="lb" x="34.5" y="751">Smalt</text><rect class="s" x="64" y="737" width="11" height="11.5"/>
<text class="lb" x="32.5" y="765.5"><tspan class="b">Parsnp</tspan><tspan font-size="9" fill="#444">full</tspan></text><rect class="f" x="64" y="753.5" width="11" height="12.5"/>
</g>
<g id="legend-B">
<rect class="box" x="399" y="668.5" width="82" height="104"/>
<text class="lb b" x="435" y="684.5">Mugsy</text><rect class="g" x="462.5" y="672" width="11" height="12"/>
<text class="lb b" x="436" y="700">Mauve</text><rect class="m" x="462.5" y="688.5" width="11" height="12"/>
<text class="lb b" x="435.5" y="716">Parsnp</text><rect class="p" x="462.5" y="705" width="11" height="12"/>
<text class="lb" x="432" y="733.5">BWA</text><rect class="w" x="462.5" y="720" width="11" height="12.5"/>
<text class="lb" x="434" y="751">Smalt</text><rect class="s" x="462.5" y="737.5" width="11" height="12"/>
<text class="lb" x="431.5" y="766"><tspan class="b">Parsnp</tspan><tspan font-size="9" fill="#444">full</tspan></text><rect class="f" x="462.5" y="754" width="11" height="12.5"/>
</g>
</svg>
